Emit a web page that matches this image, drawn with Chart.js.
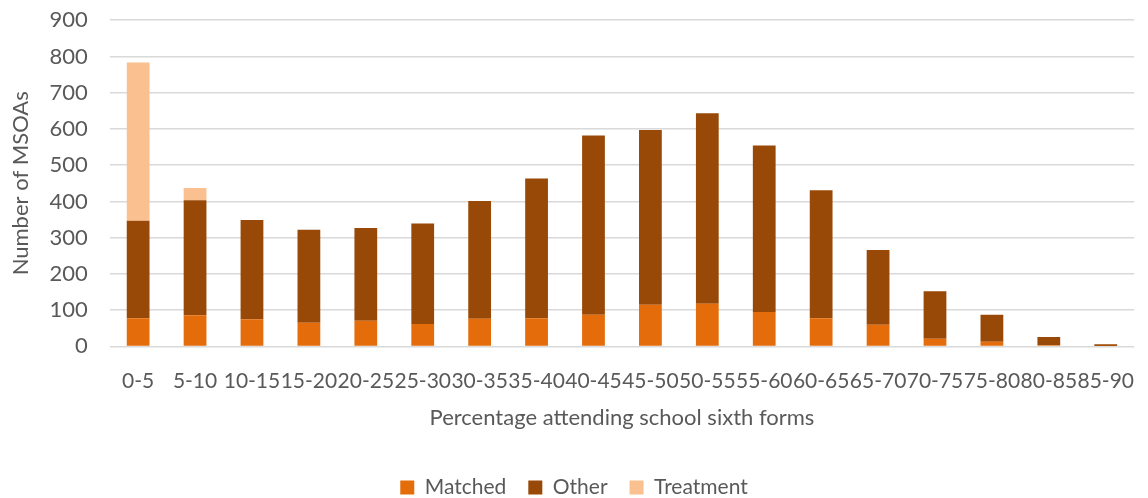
<!DOCTYPE html>
<html>
<head>
<meta charset="utf-8">
<script src="https://cdn.jsdelivr.net/npm/chart.js@4/dist/chart.umd.min.js"></script>
<style>
  body { margin: 0; background: #fff; }
  #wrap { width: 1148px; height: 498px; }
</style>
</head>
<body>
<div id="wrap"><canvas id="myChart"></canvas></div>
<script>
const categories = ['0-5', '5-10', '10-15', '15-20', '20-25', '25-30', '30-35', '35-40', '40-45',
    '45-50', '50-55', '55-60', '60-65', '65-70', '70-75', '75-80', '80-85', '85-90'];
const matched = [78, 86, 75, 65, 71, 62, 76, 78, 87, 115, 118, 95, 78, 60, 21, 13, 3, 1];
const other = [269, 317, 274, 257, 256, 277, 325, 385, 495, 482, 525, 459, 353, 206, 131, 74, 23, 5];
const treatment = [436, 34, 0, 0, 0, 0, 0, 0, 0, 0, 0, 0, 0, 0, 0, 0, 0, 0];

const fontFamily = 'Lato, "Open Sans", sans-serif';
const textColor = '#595959';

// chart.js leaves some room under the legend; trim its box so it sits lower
const legendLower = {
    id: 'legendLower',
    beforeInit(chart) {
        const fit = chart.legend.fit;
        chart.legend.fit = function () {
            fit.bind(chart.legend)();
            this.height -= 10;
        };
    }
};

const ctx = document.getElementById('myChart').getContext('2d');
new Chart(ctx, {
    type: 'bar',
    data: {
        labels: categories,
        datasets: [
            { label: 'Matched', data: matched, backgroundColor: '#E46C0A' },
            { label: 'Other', data: other, backgroundColor: '#984807' },
            { label: 'Treatment', data: treatment, backgroundColor: '#FAC090' }
        ]
    },
    options: {
        responsive: true,
        maintainAspectRatio: false,
        animation: false,
        layout: { padding: { top: 5, right: 0, left: 0, bottom: 0 } },
        datasets: {
            bar: { barPercentage: 0.4, categoryPercentage: 1 }
        },
        plugins: {
            tooltip: { enabled: false },
            legend: {
                position: 'bottom',
                labels: {
                    boxWidth: 14,
                    boxHeight: 14,
                    padding: 22,
                    color: textColor,
                    font: { family: fontFamily, size: 21 }
                }
            }
        },
        scales: {
            x: {
                stacked: true,
                grid: { display: false },
                border: { display: false },
                ticks: {
                    autoSkip: false,
                    maxRotation: 0,
                    minRotation: 0,
                    padding: 14,
                    color: textColor,
                    font: { family: fontFamily, size: 21 }
                },
                title: {
                    display: true,
                    text: 'Percentage attending school sixth forms',
                    color: textColor,
                    font: { family: fontFamily, size: 22 },
                    padding: { top: -3, bottom: 24 }
                }
            },
            y: {
                stacked: true,
                min: 0,
                max: 900,
                grid: {
                    color: '#d9d9d9',
                    lineWidth: 1.5,
                    drawTicks: true,
                    tickLength: 15,
                    tickColor: 'rgba(0,0,0,0)'
                },
                border: { display: false },
                ticks: {
                    stepSize: 100,
                    padding: 7,
                    color: textColor,
                    font: { family: fontFamily, size: 22 }
                },
                title: {
                    display: true,
                    text: 'Number of MSOAs',
                    color: textColor,
                    font: { family: fontFamily, size: 22 },
                    padding: { top: 8, bottom: 8 }
                }
            }
        }
    },
    plugins: [legendLower]
});
</script>
</body>
</html>
